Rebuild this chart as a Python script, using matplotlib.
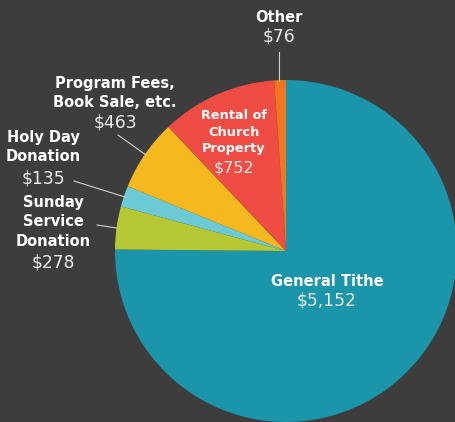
import matplotlib
matplotlib.use("Agg")
import matplotlib.pyplot as plt

categories = ["General Tithe", "Sunday\nService\nDonation", "Holy Day\nDonation",
              "Program Fees,\nBook Sale, etc.", "Rental of\nChurch\nProperty", "Other"]
amounts = [5152, 278, 135, 463, 752, 76]
colors = ["#1a95a9", "#b6c834", "#6ccbd4", "#f6b81f", "#ef4c43", "#f0761f"]

W, H = 456, 422
bg = "#3d3d3d"
plt.rcParams["font.family"] = ["DejaVu Sans"]

fig = plt.figure(figsize=(W / 100, H / 100), dpi=100, facecolor=bg)
# pie centre at (286, 251) px, radius 171 px
cx, cy, r = 286, 251, 171
ax = fig.add_axes([(cx - r) / W, (H - cy - r) / H, 2 * r / W, 2 * r / H])
ax.set_facecolor(bg)
ax.pie(amounts, colors=colors, startangle=90, counterclock=False, radius=1,
       wedgeprops=dict(linewidth=0))
ax.set_xlim(-1, 1)
ax.set_ylim(-1, 1)
ax.set_aspect("equal")
ax.axis("off")


def fx(x):
    return x / W


def fy(y):
    return 1 - y / H


def label(x, y_name, y_val, name, value, size=10.5, vsize=12.3, ls=1.4):
    fig.text(fx(x), fy(y_name), name, ha="center", va="center", color="white",
             fontsize=size, fontweight="bold", linespacing=ls)
    fig.text(fx(x), fy(y_val), value, ha="center", va="center", color="#ececec",
             fontsize=vsize)


def money(v):
    return "${:,}".format(v)


# label positions (px): name centre y, value centre y
label(279, 17, 37, categories[5], money(amounts[5]))
label(115, 93, 122, categories[3], money(amounts[3]))
label(43, 147, 178, categories[2], money(amounts[2]))
label(53, 222, 262, categories[1], money(amounts[1]))
label(234, 132, 168, categories[4], money(amounts[4]), size=9.3, vsize=11.5, ls=1.35)
label(327, 281, 301, categories[0], money(amounts[0]))

leaders = [((279, 52), (279, 81)),
           ((118, 135), (146, 155)),
           ((74, 181), (125, 197)),
           ((97, 225), (117, 228))]
for (x0, y0), (x1, y1) in leaders:
    fig.add_artist(plt.Line2D([fx(x0), fx(x1)], [fy(y0), fy(y1)],
                              transform=fig.transFigure, color="#d0d0d0", lw=0.8))

fig.savefig("out.png", dpi=100, facecolor=bg)
